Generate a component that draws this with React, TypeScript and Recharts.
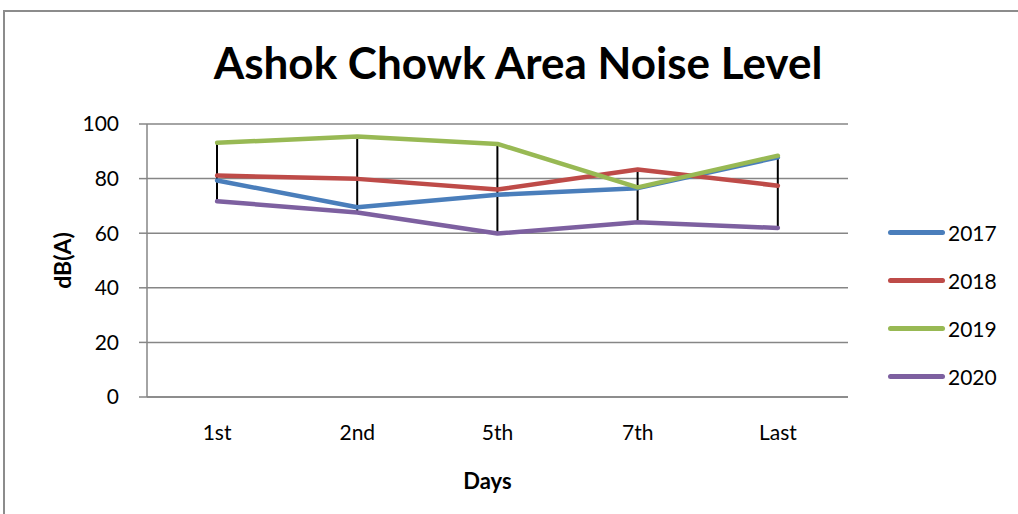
import React from "react";
import {
  ComposedChart,
  Line,
  Bar,
  XAxis,
  YAxis,
  CartesianGrid,
} from "recharts";

const days = ["1st", "2nd", "5th", "7th", "Last"];
const y2017 = [79.3, 69.5, 74.1, 76.5, 87.8];
const y2018 = [81.1, 79.9, 76.0, 83.3, 77.4];
const y2019 = [93.1, 95.4, 92.7, 76.8, 88.4];
const y2020 = [71.7, 67.6, 59.9, 64.0, 61.9];
const yTicks = [0, 20, 40, 60, 80, 100];

const series = [
  { key: "2017", color: "#4a7ebb" },
  { key: "2018", color: "#be4b48" },
  { key: "2019", color: "#98b954" },
  { key: "2020", color: "#7d60a0" },
];

const FONT = "Lato, 'Open Sans', sans-serif";
const GRID = "#868686";

const data = days.map((d, i) => {
  const vals = [y2017[i], y2018[i], y2019[i], y2020[i]];
  return {
    day: d,
    "2017": y2017[i],
    "2018": y2018[i],
    "2019": y2019[i],
    "2020": y2020[i],
    range: [Math.min(...vals), Math.max(...vals)],
  };
});

function LegendBox() {
  return (
    <div
      style={{
        position: "absolute",
        left: 888,
        top: 208,
        fontFamily: FONT,
        fontSize: 21,
        color: "#000",
      }}
    >
      {series.map((s) => (
        <div
          key={s.key}
          style={{ display: "flex", alignItems: "center", height: 48 }}
        >
          <div
            style={{
              width: 57,
              height: 5,
              borderRadius: 3,
              background: s.color,
              marginRight: 3,
            }}
          />
          <span>{s.key}</span>
        </div>
      ))}
    </div>
  );
}

export default function App() {
  return (
    <div
      style={{
        position: "absolute",
        left: 0,
        top: 0,
        width: 1018,
        height: 514,
        overflow: "hidden",
        background: "#fff",
        fontFamily: FONT,
      }}
    >
      <div
        style={{
          position: "absolute",
          left: 3,
          top: 10,
          width: 1040,
          height: 540,
          border: "2px solid #8c8c8c",
        }}
      />
      <div
        style={{
          position: "absolute",
          left: 0,
          width: 1036,
          top: 36,
          textAlign: "center",
          fontSize: 44,
          fontWeight: 700,
          color: "#000",
        }}
      >
        Ashok Chowk Area Noise Level
      </div>
      <ComposedChart
        width={1018}
        height={514}
        data={data}
        margin={{ top: 124, right: 170, bottom: 0, left: 0 }}
        style={{ position: "absolute", left: 0, top: 0 }}
      >
        <CartesianGrid vertical={false} stroke={GRID} strokeWidth={1.5} />
        <XAxis
          dataKey="day"
          height={117}
          axisLine={{ stroke: GRID, strokeWidth: 1.5 }}
          tickLine={false}
          tickMargin={22}
          tick={{ fill: "#000", fontSize: 21, fontFamily: FONT }}
          label={(props: any) => {
            const vb = props.viewBox;
            return (
              <text
                x={vb.x + vb.width / 2 - 10}
                y={vb.y + 92}
                textAnchor="middle"
                fontSize={22}
                fontWeight={700}
                fontFamily={FONT}
                fill="#000"
              >
                Days
              </text>
            );
          }}
        />
        <YAxis
          width={147}
          domain={[0, 100]}
          ticks={yTicks}
          interval={0}
          axisLine={{ stroke: GRID, strokeWidth: 1.5 }}
          tickLine={{ stroke: GRID, strokeWidth: 1.5 }}
          tickSize={8}
          tickMargin={20}
          tick={{ fill: "#000", fontSize: 21, fontFamily: FONT }}
          label={(props: any) => {
            const vb = props.viewBox;
            const cx = vb.x + 62;
            const cy = vb.y + vb.height / 2;
            return (
              <text
                x={cx}
                y={cy}
                transform={`rotate(-90 ${cx} ${cy})`}
                textAnchor="middle"
                dominantBaseline="central"
                fontSize={23}
                fontWeight={700}
                fontFamily={FONT}
                fill="#000"
              >
                dB(A)
              </text>
            );
          }}
        />
        {series.map((s) => (
          <Line
            key={s.key}
            type="linear"
            dataKey={s.key}
            stroke={s.color}
            strokeWidth={4.5}
            strokeLinecap="round"
            strokeLinejoin="round"
            dot={false}
            isAnimationActive={false}
          />
        ))}
        <Bar
          dataKey="range"
          barSize={2}
          fill="#000"
          isAnimationActive={false}
          legendType="none"
        />
      </ComposedChart>
      <LegendBox />
    </div>
  );
}
